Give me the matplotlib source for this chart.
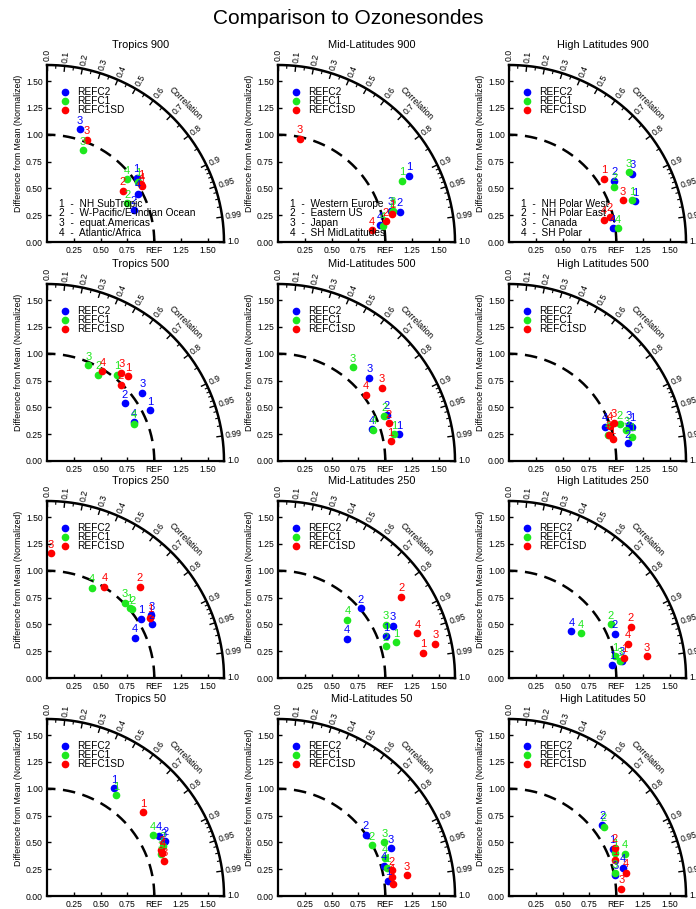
import numpy as np
import matplotlib.pyplot as plt

plt.rcParams['font.family'] = ['Liberation Sans', 'DejaVu Sans']

models = ['REFC2', 'REFC1', 'REFC1SD']
colors = ['#0000ff', '#1ee81e', '#ff0000']
zones = ['Tropics', 'Mid-Latitudes', 'High Latitudes']
levels = ['900', '500', '250', '50']

regions_trop = ['NH SubTropic', 'W-Pacific/E-Indian Ocean', 'equat.Americas', 'Atlantic/Africa']
regions_mid = ['Western Europe', 'Eastern US', 'Japan', 'SH MidLatitudes']
regions_high = ['NH Polar West', 'NH Polar East', 'Canada', 'SH Polar']

corr_labels = [0.0, 0.1, 0.2, 0.3, 0.4, 0.5, 0.6, 0.7, 0.8, 0.9, 0.95, 0.99, 1.0]
corr_minor = [0.05, 0.15, 0.25, 0.35, 0.45, 0.55, 0.65, 0.75, 0.85,
              0.91, 0.92, 0.93, 0.94, 0.96, 0.97, 0.98]

# rows: REFC2, REFC1, REFC1SD ; columns: region 1..4
trop900_x = [[0.835, 0.807, 0.307, 0.845], [0.85, 0.748, 0.332, 0.748], [0.88, 0.705, 0.37, 0.885]]
trop900_y = [[0.60, 0.30, 1.05, 0.45], [0.56, 0.36, 0.855, 0.585], [0.54, 0.475, 0.95, 0.52]]
mid900_x = [[1.224, 1.137, 1.05, 0.953], [1.16, 1.065, 1.07, 0.978], [1.065, 1.003, 0.205, 0.876]]
mid900_y = [[0.618, 0.28, 0.29, 0.155], [0.568, 0.276, 0.29, 0.152], [0.26, 0.193, 0.96, 0.109]]
high900_x = [[1.177, 0.98, 1.149, 0.969], [1.146, 0.981, 1.115, 1.012], [0.885, 0.938, 1.062, 0.888]]
high900_y = [[0.379, 0.57, 0.637, 0.127], [0.39, 0.515, 0.65, 0.127], [0.59, 0.236, 0.388, 0.205]]

trop500_x = [[0.963, 0.724, 0.889, 0.808], [0.656, 0.477, 0.384, 0.808], [0.759, 0.69, 0.693, 0.517]]
trop500_y = [[0.474, 0.539, 0.638, 0.359], [0.805, 0.802, 0.892, 0.347], [0.789, 0.709, 0.82, 0.836]]
mid500_x = [[1.13, 1.012, 0.851, 0.873], [1.08, 0.991, 0.70, 0.889], [1.05, 1.031, 0.969, 0.82]]
mid500_y = [[0.248, 0.433, 0.774, 0.297], [0.248, 0.415, 0.874, 0.291], [0.183, 0.353, 0.684, 0.619]]
high500_x = [[1.146, 1.108, 1.12, 0.895], [1.149, 1.034, 1.093, 0.92], [0.966, 0.93, 0.975, 0.94]]
high500_y = [[0.32, 0.164, 0.34, 0.316], [0.226, 0.341, 0.285, 0.245], [0.204, 0.245, 0.356, 0.33]]

trop250_x = [[0.876, 0.975, 0.972, 0.817], [0.771, 0.796, 0.724, 0.415], [0.96, 0.864, 0.037, 0.536]]
trop250_y = [[0.554, 0.502, 0.585, 0.375], [0.656, 0.641, 0.703, 0.842], [0.563, 0.851, 1.161, 0.851]]
mid250_x = [[1.009, 0.771, 1.068, 0.644], [1.102, 1.003, 1.003, 0.647], [1.35, 1.149, 1.467, 1.30]]
mid250_y = [[0.387, 0.65, 0.489, 0.365], [0.331, 0.294, 0.498, 0.545], [0.235, 0.755, 0.316, 0.418]]
high250_x = [[0.96, 0.988, 1.05, 0.582], [0.988, 0.947, 1.035, 0.672], [1.07, 1.133, 1.282, 1.111]]
high250_y = [[0.124, 0.412, 0.161, 0.437], [0.204, 0.502, 0.155, 0.415], [0.186, 0.48, 0.204, 0.316]]

trop50_x = [[0.625, 1.102, 1.09, 1.04], [0.644, 1.08, 1.062, 0.985], [0.895, 1.065, 1.093, 1.075]]
trop50_y = [[1.003, 0.514, 0.50, 0.563], [0.938, 0.47, 0.387, 0.567], [0.78, 0.43, 0.322, 0.40]]
mid50_x = [[1.028, 0.82, 1.05, 0.988], [1.02, 0.876, 0.991, 1.0], [1.068, 1.059, 1.198, 1.059]]
mid50_y = [[0.139, 0.57, 0.446, 0.279], [0.26, 0.471, 0.502, 0.353], [0.108, 0.238, 0.192, 0.176]]
high50_x = [[0.966, 0.87, 0.991, 1.065], [0.988, 0.885, 0.985, 1.077], [0.988, 0.985, 1.046, 1.087]]
high50_y = [[0.44, 0.666, 0.198, 0.26], [0.40, 0.647, 0.21, 0.393], [0.331, 0.45, 0.068, 0.217]]

panel_x = [[trop900_x, mid900_x, high900_x], [trop500_x, mid500_x, high500_x],
           [trop250_x, mid250_x, high250_x], [trop50_x, mid50_x, high50_x]]
panel_y = [[trop900_y, mid900_y, high900_y], [trop500_y, mid500_y, high500_y],
           [trop250_y, mid250_y, high250_y], [trop50_y, mid50_y, high50_y]]
region_names = [regions_trop, regions_mid, regions_high]

RMAX = 1.65


def taylor_frame(ax):
    ax.set_xlim(0, RMAX)
    ax.set_ylim(0, RMAX)
    for s in ['top', 'right']:
        ax.spines[s].set_visible(False)
    for s in ['left', 'bottom']:
        ax.spines[s].set_linewidth(1.6)
    ax.set_xticks([0.25, 0.5, 0.75, 1.0, 1.25, 1.5])
    ax.set_xticklabels(['0.25', '0.50', '0.75', 'REF', '1.25', '1.50'])
    ax.set_yticks([0, 0.25, 0.5, 0.75, 1.0, 1.25, 1.5])
    ax.set_yticklabels(['0.00', '0.25', '0.50', '0.75', '1.00', '1.25', '1.50'])
    ax.tick_params(direction='in', length=3, width=1, labelsize=6.2, pad=3)
    ax.set_ylabel('Difference from Mean (Normalized)', fontsize=6.3)
    ax.yaxis.set_label_coords(-0.135, 0.56)

    th = np.linspace(0, np.pi / 2, 300)
    ax.plot(RMAX * np.cos(th), RMAX * np.sin(th), color='k', lw=1.8, clip_on=False)
    ax.plot(np.cos(th), np.sin(th), color='k', lw=1.8, ls=(0, (5, 3)))

    # correlation ticks and labels along the outer arc
    for c in corr_labels:
        a = np.arccos(c)
        ax.plot([RMAX * np.cos(a), 0.97 * RMAX * np.cos(a)],
                [RMAX * np.sin(a), 0.97 * RMAX * np.sin(a)], color='k', lw=1, clip_on=False)
        ax.text(1.02 * RMAX * np.cos(a), 1.02 * RMAX * np.sin(a), f'{c:g}' if c not in (0, 1) else f'{c:.1f}',
                rotation=np.degrees(a), rotation_mode='anchor', ha='left', va='center',
                fontsize=6.2, clip_on=False)
    for c in corr_minor:
        a = np.arccos(c)
        ax.plot([RMAX * np.cos(a), 0.983 * RMAX * np.cos(a)],
                [RMAX * np.sin(a), 0.983 * RMAX * np.sin(a)], color='k', lw=0.8, clip_on=False)
    a = np.radians(45)
    ax.text(1.83 * np.cos(a), 1.83 * np.sin(a), 'Correlation', rotation=-45,
            ha='center', va='center', fontsize=6.3, clip_on=False)


fig = plt.figure(figsize=(6.96, 9.09), dpi=100)
fig.text(0.5, 0.980, 'Comparison to Ozonesondes', ha='center', va='center', fontsize=15)

lefts = [47 / 696, 278 / 696, 509 / 696]
bottoms = [1 - 242 / 909, 1 - 461 / 909, 1 - 678 / 909, 1 - 896 / 909]
w = 177 / 696
h = 177 / 909

for i, lev in enumerate(levels):
    for j, zone in enumerate(zones):
        ax = fig.add_axes([lefts[j], bottoms[i], w, h])
        taylor_frame(ax)
        ax.text(0.53, 1.115, f'{zone} {lev}', transform=ax.transAxes,
                ha='center', va='center', fontsize=7.9)
        xs = panel_x[i][j]
        ys = panel_y[i][j]
        for m, (name, col) in enumerate(zip(models, colors)):
            ax.plot(0.168, 1.40 - 0.087 * m, 'o', color=col, ms=4.5)
            ax.text(0.277, 1.40 - 0.087 * m, name, color='k', fontsize=7.3, va='center')
            for k in range(4):
                ax.plot(xs[m][k], ys[m][k], 'o', color=col, ms=4.5, clip_on=False)
                ax.annotate(str(k + 1), (xs[m][k], ys[m][k]), xytext=(0, 6.2),
                            textcoords='offset points', ha='center', va='center',
                            color=col, fontsize=8)
        if i == 0:
            for k, reg in enumerate(region_names[j]):
                ax.text(0.109, 0.357 - 0.09 * k, f'{k + 1}  -  {reg}', fontsize=7.3,
                        va='center', ha='left')

fig.savefig('out.png', dpi=100)
